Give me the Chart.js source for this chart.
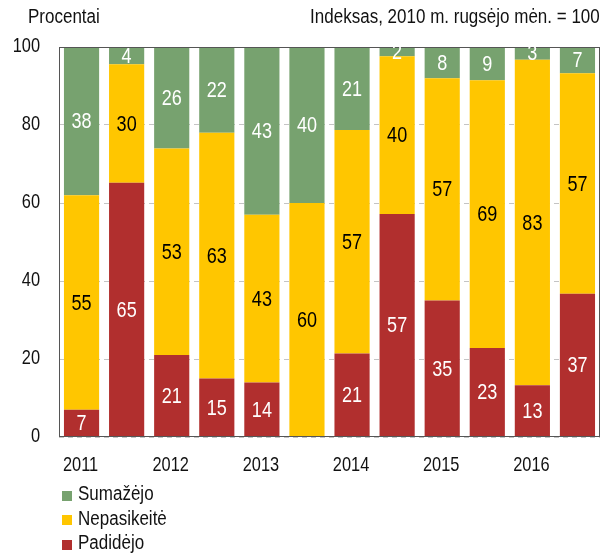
<!DOCTYPE html>
<html>
<head>
<meta charset="utf-8">
<script src="https://cdn.jsdelivr.net/npm/chart.js@4"></script>
<style>
  body { margin: 0; background: #fff; }
  #wrap { position: relative; width: 609px; height: 554px; font-family: 'Liberation Sans', Arial, sans-serif; color: #111; }
  .note { position: absolute; top: 5px; font-size: 20px; white-space: nowrap; transform: scaleX(0.85); }
  #legend { position: absolute; left: 62px; top: 481px; font-size: 20px; }
  #legend div { height: 24.5px; line-height: 24.5px; white-space: nowrap; }
  #legend span.box { display: inline-block; width: 10px; height: 10px; margin-right: 6px; vertical-align: -0.5px; }
  #legend span.txt { display: inline-block; transform: scaleX(0.85); transform-origin: left center; }
</style>
</head>
<body>
<div id="wrap">
  <canvas id="chart" width="609" height="554"></canvas>
  <div class="note" style="left:28px; transform-origin:left center">Procentai</div>
  <div class="note" style="right:9px; transform-origin:right center">Indeksas, 2010 m. rugsėjo mėn. = 100</div>
  <div id="legend"></div>
</div>
<script>
// half-years 2011 I .. 2016 II, year shown under the first half only
const categories = ['2011 I', '2011 II', '2012 I', '2012 II', '2013 I', '2013 II',
                    '2014 I', '2014 II', '2015 I', '2015 II', '2016 I', '2016 II'];
const yearTicks = ['2011', '', '2012', '', '2013', '', '2014', '', '2015', '', '2016', ''];
const yTicks = [0, 20, 40, 60, 80, 100];

// shares of respondents, %
const padidejo     = [7, 65.2, 21, 15, 14, 0, 21.4, 57.2, 35, 22.8, 13.3, 36.7];
const nepasikeite  = [55, 30.4, 53, 63, 43, 60, 57.3, 40.4, 57, 68.7, 83.4, 56.6];
const sumazejo     = [38, 4.4, 26, 22, 43, 40, 21.3, 2.4, 8, 8.5, 3.3, 6.7];

const FONT = "'Liberation Sans', Arial, sans-serif";

const series = [
    { label: 'Padidėjo', data: padidejo, color: '#b12f2e', text: '#fff' },
    { label: 'Nepasikeitė', data: nepasikeite, color: '#ffc600', text: '#000' },
    { label: 'Sumažėjo', data: sumazejo, color: '#77a26f', text: '#fff' }
];

// legend listed top-down, reverse of stacking
document.getElementById('legend').innerHTML = series.slice().reverse()
    .map(s => `<div><span class="box" style="background:${s.color}"></span><span class="txt">${s.label}</span></div>`).join('');

// narrow-looking text (no Arial Narrow installed, so squeeze Liberation Sans)
function narrowText(ctx, txt, x, y, align, sx) {
    ctx.save();
    ctx.translate(x, y);
    ctx.scale(sx, 1);
    ctx.textAlign = align;
    ctx.fillText(txt, 0, 0);
    ctx.restore();
}

// frame, axis labels and values in the middle of each segment
const segmentLabels = {
    id: 'segmentLabels',
    afterDatasetsDraw(chart) {
        const ctx = chart.ctx;
        const a = chart.chartArea;
        const xs = chart.scales.x, ys = chart.scales.y;
        ctx.save();
        ctx.strokeStyle = '#555';
        ctx.lineWidth = 1;
        ctx.strokeRect(a.left + 0.5, a.top + 0.5, a.right - a.left - 1, a.bottom - a.top - 1);

        ctx.textBaseline = 'middle';
        ctx.fillStyle = '#111';
        ctx.font = '21px ' + FONT;
        yTicks.forEach(v => narrowText(ctx, String(v), 40, ys.getPixelForValue(v) - 1, 'right', 0.78));
        yearTicks.forEach((t, i) => {
            if (t) narrowText(ctx, t, xs.getPixelForValue(i) - 1, a.bottom + 28, 'center', 0.78);
        });

        ctx.font = '22px ' + FONT;
        chart.data.datasets.forEach((ds, i) => {
            chart.getDatasetMeta(i).data.forEach((bar, j) => {
                const v = Math.round(ds.data[j]);
                if (!v) return;
                ctx.fillStyle = series[i].text;
                narrowText(ctx, String(v), bar.x, (bar.y + bar.base) / 2 + 1, 'center', 0.82);
            });
        });
        ctx.restore();
    }
};

new Chart(document.getElementById('chart'), {
    type: 'bar',
    data: {
        labels: categories,
        datasets: series.map(s => ({
            label: s.label,
            data: s.data,
            backgroundColor: s.color,
            borderWidth: 0,
            barPercentage: 0.78,
            categoryPercentage: 1
        }))
    },
    options: {
        responsive: false,
        animation: false,
        layout: { padding: { top: 47, right: 9, bottom: 77, left: 0 } },
        plugins: { legend: { display: false }, tooltip: { enabled: false } },
        scales: {
            x: {
                stacked: true,
                grid: { display: false },
                border: { display: false },
                afterFit(scale) { scale.height = 40; },
                ticks: { display: false }
            },
            y: {
                stacked: true,
                min: 0, max: 100,
                afterFit(scale) { scale.width = 59; },
                afterBuildTicks(scale) { scale.ticks = yTicks.map(v => ({ value: v })); },
                grid: { color: '#c4c4c4', drawTicks: false },
                border: { display: false, dash: [5, 4] },
                ticks: { display: false }
            }
        }
    },
    plugins: [segmentLabels]
});
</script>
</body>
</html>
